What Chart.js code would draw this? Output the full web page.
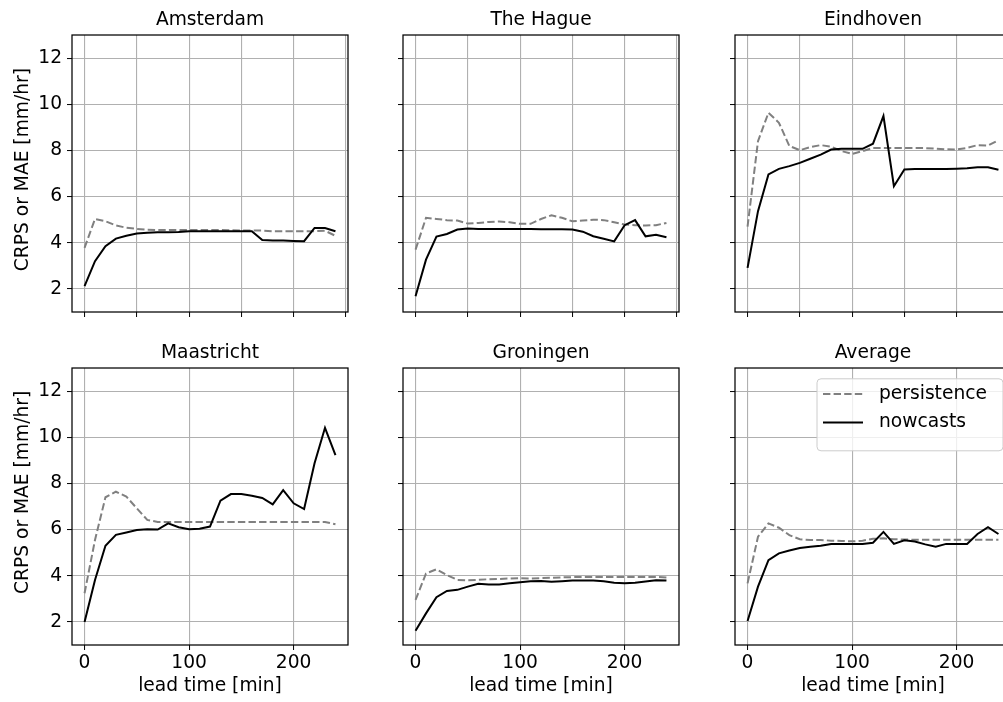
<!DOCTYPE html>
<html>
<head>
<meta charset="utf-8">
<script src="https://cdn.jsdelivr.net/npm/chart.js@4.4.1/dist/chart.umd.min.js"></script>
<style>
  html, body { margin: 0; padding: 0; background: #fff; }
  body { width: 1003px; height: 702px; overflow: hidden; position: relative; }
  canvas { position: absolute; }
</style>
</head>
<body>
<script>
// Lead times (minutes) shared by every panel
const leadTimes = [0, 10, 20, 30, 40, 50, 60, 70, 80, 90, 100, 110, 120,
                   130, 140, 150, 160, 170, 180, 190, 200, 210, 220, 230, 240];

// Tick labels
const xTicksTop = [0, 50, 100, 150, 200, 250];
const xTicksBottom = [0, 100, 200];
const yTicks = [2, 4, 6, 8, 10, 12];

const cityNames = ['Amsterdam', 'The Hague', 'Eindhoven', 'Maastricht', 'Groningen', 'Average'];
const seriesNames = ['persistence', 'nowcasts'];
const yAxisTitle = 'CRPS or MAE [mm/hr]';
const xAxisTitle = 'lead time [min]';

// Error scores per city (mm/hr)
const amsterdamPersistence = [3.78, 5.03, 4.93, 4.75, 4.65, 4.6, 4.56, 4.55, 4.55, 4.55, 4.55, 4.55, 4.55,
                              4.55, 4.54, 4.53, 4.53, 4.53, 4.5, 4.5, 4.5, 4.5, 4.5, 4.52, 4.3];
const amsterdamNowcasts = [2.12, 3.2, 3.85, 4.18, 4.3, 4.4, 4.43, 4.45, 4.46, 4.47, 4.5, 4.5, 4.5,
                           4.5, 4.5, 4.5, 4.5, 4.12, 4.1, 4.1, 4.08, 4.07, 4.64, 4.64, 4.5];

const haguePersistence = [3.7, 5.08, 5.03, 4.98, 4.96, 4.83, 4.86, 4.9, 4.92, 4.89, 4.82, 4.82, 5.03,
                          5.19, 5.08, 4.93, 4.96, 5.0, 4.98, 4.89, 4.79, 4.76, 4.75, 4.76, 4.86];
const hagueNowcasts = [1.68, 3.27, 4.27, 4.38, 4.57, 4.62, 4.6, 4.6, 4.6, 4.6, 4.6, 4.6, 4.58,
                       4.58, 4.58, 4.57, 4.48, 4.28, 4.17, 4.06, 4.76, 4.98, 4.28, 4.35, 4.24];

const eindhovenPersistence = [4.7, 8.4, 9.63, 9.2, 8.19, 8.01, 8.14, 8.23, 8.16, 7.97, 7.85, 7.97, 8.11,
                              8.11, 8.1, 8.1, 8.1, 8.1, 8.08, 8.05, 8.04, 8.11, 8.23, 8.21, 8.44];
const eindhovenNowcasts = [2.91, 5.37, 6.96, 7.2, 7.32, 7.46, 7.64, 7.82, 8.04, 8.07, 8.07, 8.07, 8.29,
                           9.49, 6.45, 7.17, 7.19, 7.2, 7.2, 7.2, 7.21, 7.23, 7.27, 7.27, 7.16];

const maastrichtPersistence = [3.24, 5.55, 7.4, 7.64, 7.43, 6.92, 6.42, 6.33, 6.33, 6.33, 6.33, 6.33, 6.33,
                               6.33, 6.33, 6.33, 6.33, 6.33, 6.33, 6.33, 6.33, 6.33, 6.33, 6.33, 6.23];
const maastrichtNowcasts = [2.0, 3.82, 5.3, 5.77, 5.87, 5.98, 6.01, 6.0, 6.27, 6.1, 6.01, 6.04, 6.13,
                            7.25, 7.54, 7.54, 7.47, 7.37, 7.09, 7.71, 7.14, 6.89, 8.87, 10.41, 9.23];

const groningenPersistence = [2.95, 4.1, 4.28, 4.03, 3.82, 3.8, 3.82, 3.85, 3.86, 3.88, 3.89, 3.88, 3.9,
                              3.91, 3.93, 3.94, 3.95, 3.95, 3.95, 3.95, 3.95, 3.95, 3.95, 3.95, 3.92];
const groningenNowcasts = [1.62, 2.37, 3.07, 3.34, 3.39, 3.53, 3.65, 3.62, 3.62, 3.67, 3.72, 3.76, 3.77,
                           3.74, 3.76, 3.79, 3.79, 3.79, 3.76, 3.7, 3.67, 3.7, 3.75, 3.81, 3.79];

const averagePersistence = [3.67, 5.69, 6.27, 6.08, 5.76, 5.58, 5.55, 5.55, 5.52, 5.51, 5.49, 5.52, 5.6,
                            5.62, 5.58, 5.57, 5.56, 5.56, 5.56, 5.56, 5.56, 5.56, 5.56, 5.56, 5.56];
const averageNowcasts = [2.04, 3.53, 4.68, 4.97, 5.09, 5.2, 5.26, 5.3, 5.38, 5.38, 5.38, 5.38, 5.43,
                         5.9, 5.38, 5.54, 5.48, 5.36, 5.26, 5.38, 5.38, 5.38, 5.81, 6.1, 5.81];

const panels = [
  { title: cityNames[0], persistence: amsterdamPersistence, nowcasts: amsterdamNowcasts },
  { title: cityNames[1], persistence: haguePersistence, nowcasts: hagueNowcasts },
  { title: cityNames[2], persistence: eindhovenPersistence, nowcasts: eindhovenNowcasts },
  { title: cityNames[3], persistence: maastrichtPersistence, nowcasts: maastrichtNowcasts },
  { title: cityNames[4], persistence: groningenPersistence, nowcasts: groningenNowcasts },
  { title: cityNames[5], persistence: averagePersistence, nowcasts: averageNowcasts, legend: true }
];

// ---- layout (page pixels) ----
const FONT_FAMILY = '"DejaVu Sans", "Liberation Sans", sans-serif';
const FONT_SIZE = 18.67;
const FONT = { family: FONT_FAMILY, size: FONT_SIZE, weight: 'normal', lineHeight: 1.2 };
const AX_W = 276, AX_H = 277;
const MARGIN_L = 72, MARGIN_T = 35, MARGIN_R = 8, MARGIN_B = 56;
const colX = [72, 403, 735];
const rowY = [35, 368];
const yLabelX = 22.8;
const yLabelMid = [169.6, 492.4];
const GRID = '#b0b0b0';

// Frame, rotated y label and in-axes legend
const panelDecor = {
  id: 'panelDecor',
  afterDatasetsDraw(chart) {
    const a = chart.chartArea, ctx = chart.ctx;
    ctx.save();
    ctx.strokeStyle = '#000';
    ctx.lineWidth = 1.25;
    ctx.strokeRect(a.left, a.top, a.right - a.left, a.bottom - a.top);
    ctx.restore();
  },
  afterDraw(chart, args, opts) {
    const a = chart.chartArea, ctx = chart.ctx;
    ctx.save();
    ctx.font = `${FONT_SIZE}px ${FONT_FAMILY}`;
    ctx.fillStyle = '#000';
    if (opts.yLabel) {
      ctx.save();
      ctx.translate(opts.yLabelX, opts.yLabelY);
      ctx.rotate(-Math.PI / 2);
      ctx.textAlign = 'center';
      ctx.textBaseline = 'middle';
      ctx.fillText(opts.yLabel, 0, 0);
      ctx.restore();
    }
    if (opts.legend) {
      const bx = a.left + 82, by = a.top + 10.8, bw = 186, bh = 72, r = 4;
      ctx.beginPath();
      ctx.moveTo(bx + r, by);
      ctx.arcTo(bx + bw, by, bx + bw, by + bh, r);
      ctx.arcTo(bx + bw, by + bh, bx, by + bh, r);
      ctx.arcTo(bx, by + bh, bx, by, r);
      ctx.arcTo(bx, by, bx + bw, by, r);
      ctx.closePath();
      ctx.fillStyle = 'rgba(255,255,255,0.8)';
      ctx.fill();
      ctx.strokeStyle = '#cccccc';
      ctx.lineWidth = 1;
      ctx.stroke();
      const rows = [a.top + 26, a.top + 54.6];
      chart.data.datasets.forEach((ds, i) => {
        const y = rows[i];
        ctx.beginPath();
        ctx.setLineDash(ds.borderDash || []);
        ctx.strokeStyle = ds.borderColor;
        ctx.lineWidth = ds.borderWidth;
        ctx.moveTo(a.left + 88, y);
        ctx.lineTo(a.left + 128, y);
        ctx.stroke();
        ctx.setLineDash([]);
        ctx.fillStyle = '#000';
        ctx.textAlign = 'left';
        ctx.textBaseline = 'middle';
        ctx.fillText(ds.label, a.left + 144, y);
      });
    }
    ctx.restore();
  }
};

panels.forEach((p, idx) => {
  const row = Math.floor(idx / 3), col = idx % 3;
  const left = colX[col] - MARGIN_L;
  const top = rowY[row] - MARGIN_T;
  const w = MARGIN_L + AX_W + MARGIN_R;
  const h = MARGIN_T + AX_H + MARGIN_B;
  const canvas = document.createElement('canvas');
  canvas.width = w; canvas.height = h;
  canvas.style.left = left + 'px';
  canvas.style.top = top + 'px';
  canvas.style.width = w + 'px';
  canvas.style.height = h + 'px';
  document.body.appendChild(canvas);

  const xTicks = row === 0 ? xTicksTop : xTicksBottom;
  const showX = row === 1;
  const showY = col === 0;

  new Chart(canvas, {
    type: 'line',
    data: {
      datasets: [
        {
          label: seriesNames[0],
          data: leadTimes.map((t, i) => ({ x: t, y: p.persistence[i] })),
          borderColor: '#808080', borderWidth: 2, borderDash: [7.4, 3.2],
          pointRadius: 0, tension: 0, fill: false, order: 1
        },
        {
          label: seriesNames[1],
          data: leadTimes.map((t, i) => ({ x: t, y: p.nowcasts[i] })),
          borderColor: '#000000', borderWidth: 2,
          pointRadius: 0, tension: 0, fill: false, order: 0
        }
      ]
    },
    options: {
      responsive: false,
      animation: false,
      events: [],
      layout: { padding: { left: 0, top: 0, right: MARGIN_R, bottom: 0 } },
      scales: {
        x: {
          type: 'linear', min: -12, max: 252,
          afterBuildTicks: s => { s.ticks = xTicks.map(v => ({ value: v })); },
          afterFit: s => { s.height = MARGIN_B; },
          grid: { color: GRID, lineWidth: 1.1, tickLength: 5, tickColor: '#000', tickWidth: 1 },
          border: { display: false },
          ticks: {
            font: FONT, color: '#000', padding: 2, maxRotation: 0, autoSkip: false,
            callback: v => showX ? String(v) : ''
          },
          title: { display: showX, text: xAxisTitle, font: FONT, color: '#000', padding: { top: 0, bottom: 3.8 } }
        },
        y: {
          type: 'linear', min: 1, max: 13,
          afterBuildTicks: s => { s.ticks = yTicks.map(v => ({ value: v })); },
          afterFit: s => { s.width = MARGIN_L; },
          grid: { color: GRID, lineWidth: 1.1, tickLength: 5, tickColor: '#000', tickWidth: 1 },
          border: { display: false },
          ticks: {
            font: FONT, color: '#000', padding: 5, autoSkip: false,
            callback: v => showY ? String(v) : ''
          },
          title: { display: false }
        }
      },
      plugins: {
        legend: { display: false },
        tooltip: { enabled: false },
        title: {
          display: true, text: p.title, font: FONT, color: '#000',
          fullSize: false, padding: { top: 9.3, bottom: 3.3 }
        },
        panelDecor: {
          yLabel: showY ? yAxisTitle : null,
          yLabelX: yLabelX - left,
          yLabelY: yLabelMid[row] - top,
          legend: !!p.legend
        }
      }
    },
    plugins: [panelDecor]
  });
});
</script>
</body>
</html>
